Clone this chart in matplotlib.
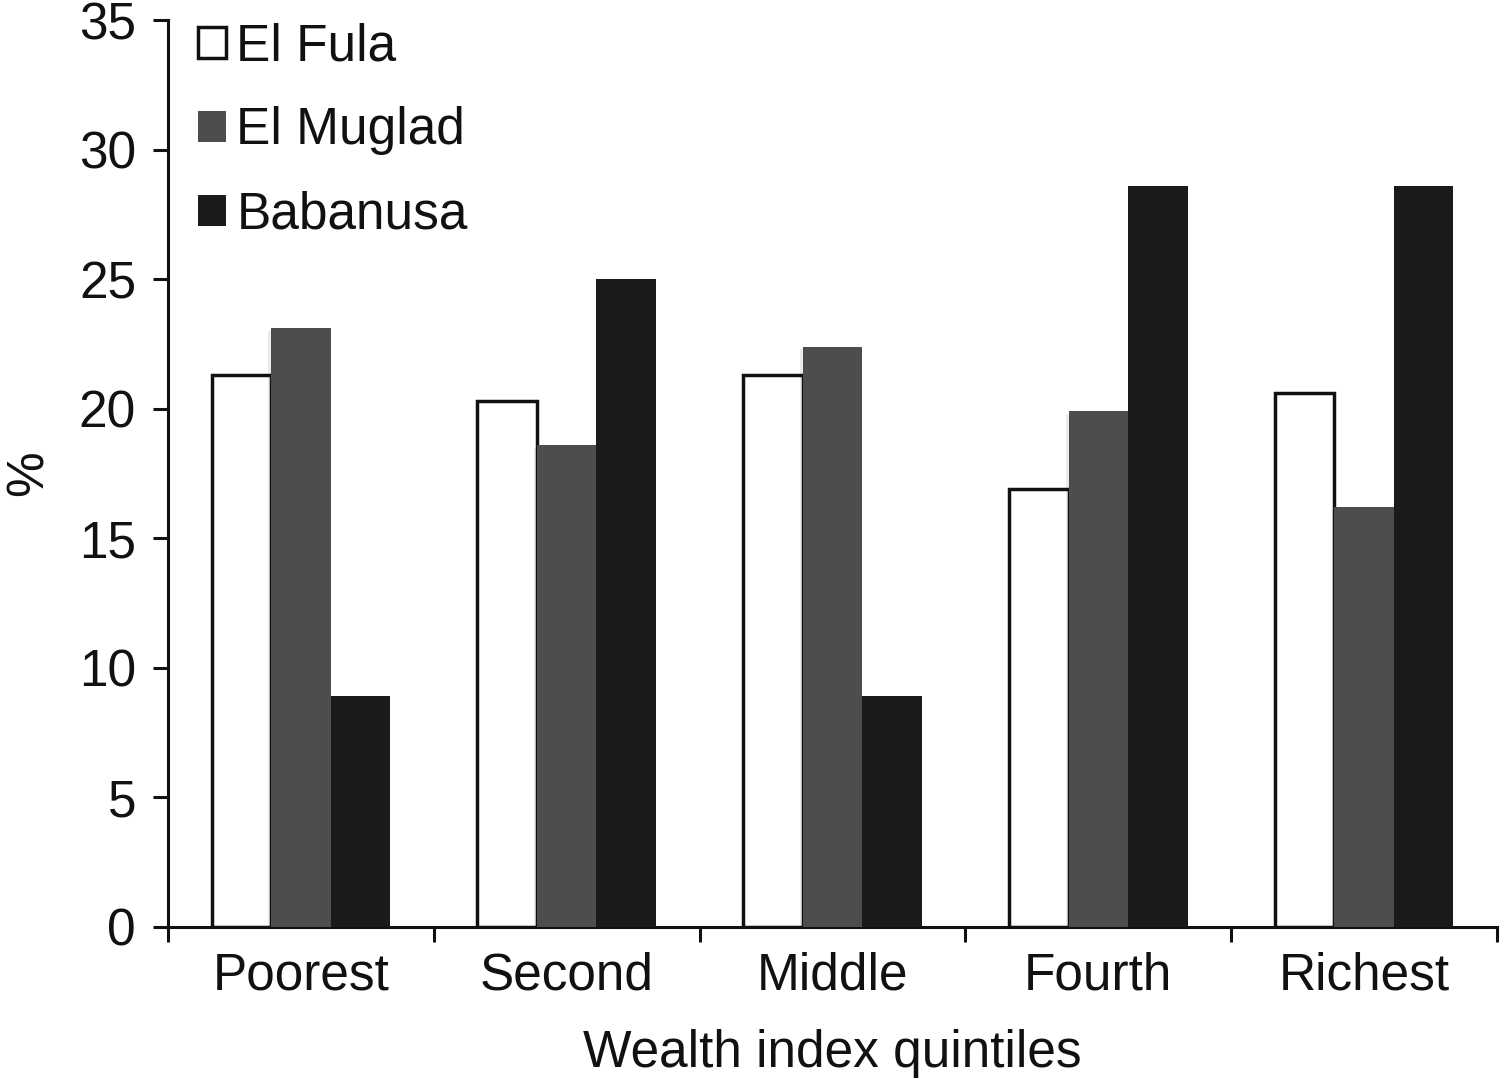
import numpy as np
import matplotlib
matplotlib.use("Agg")
import matplotlib.pyplot as plt
from matplotlib import patheffects

plt.rcParams['font.family'] = ['Liberation Sans', 'DejaVu Sans']

# data
categories = ["Poorest", "Second", "Middle", "Fourth", "Richest"]
el_fula = [21.3, 20.3, 21.3, 16.9, 20.6]
el_muglad = [23.1, 18.6, 22.4, 19.9, 16.2]
babanusa = [8.9, 25.0, 8.9, 28.6, 28.6]
series_names = ["El Fula", "El Muglad", "Babanusa"]
y_ticks = [0, 5, 10, 15, 20, 25, 30, 35]

FS = 37

fig = plt.figure(figsize=(15, 10.82), dpi=100)
ax = fig.add_axes([0.112, 0.1433, 0.886, 0.8382])

x = np.arange(len(categories)) + 0.5
w = 0.224

ax.bar(x - w, el_fula, w, color="white", edgecolor="#111111", linewidth=2.5,
       label=series_names[0], zorder=2)
shadow = [patheffects.SimplePatchShadow(offset=(-2, -2), shadow_rgbFace="#000000", alpha=0.08),
          patheffects.Normal()]
muglad = ax.bar(x, el_muglad, w, color="#4d4d4d", edgecolor="none",
                label=series_names[1], zorder=3)
for p in muglad:
    p.set_path_effects(shadow)
ax.bar(x + w, babanusa, w, color="#1a1a1a", edgecolor="none",
       label=series_names[2], zorder=4)

ax.set_xlim(0, len(categories))
ax.set_ylim(0, 35)
ax.set_yticks(y_ticks)
ax.set_xticks(np.arange(len(categories) + 1))
ax.set_xticklabels([])
ax.set_xticks(x, minor=True)
ax.set_xticklabels(categories, minor=True)

for s in ["top", "right"]:
    ax.spines[s].set_visible(False)
for s in ["left", "bottom"]:
    ax.spines[s].set_linewidth(2.2)
    ax.spines[s].set_color("#111111")

ax.tick_params(axis="y", direction="out", length=11, width=2.2, labelsize=FS, pad=12,
               colors="#111111")
ax.tick_params(axis="x", which="major", direction="out", length=11, width=2.2,
               colors="#111111")
ax.tick_params(axis="x", which="minor", length=0, labelsize=FS, pad=18,
               colors="#111111")

ax.set_ylabel("%", fontsize=FS, labelpad=18, color="#111111")
ax.set_xlabel("Wealth index quintiles", fontsize=FS, labelpad=20, color="#111111")

leg = ax.legend(loc="upper left", bbox_to_anchor=(0.007, 1.02), frameon=False,
                fontsize=FS, handlelength=0.55, handleheight=0.55, handletextpad=0.2,
                labelspacing=0.68, borderaxespad=0)
for t in leg.get_texts():
    t.set_color("#111111")
for h in leg.legend_handles:
    h.set_path_effects([])

fig.savefig("out.png", dpi=100)
